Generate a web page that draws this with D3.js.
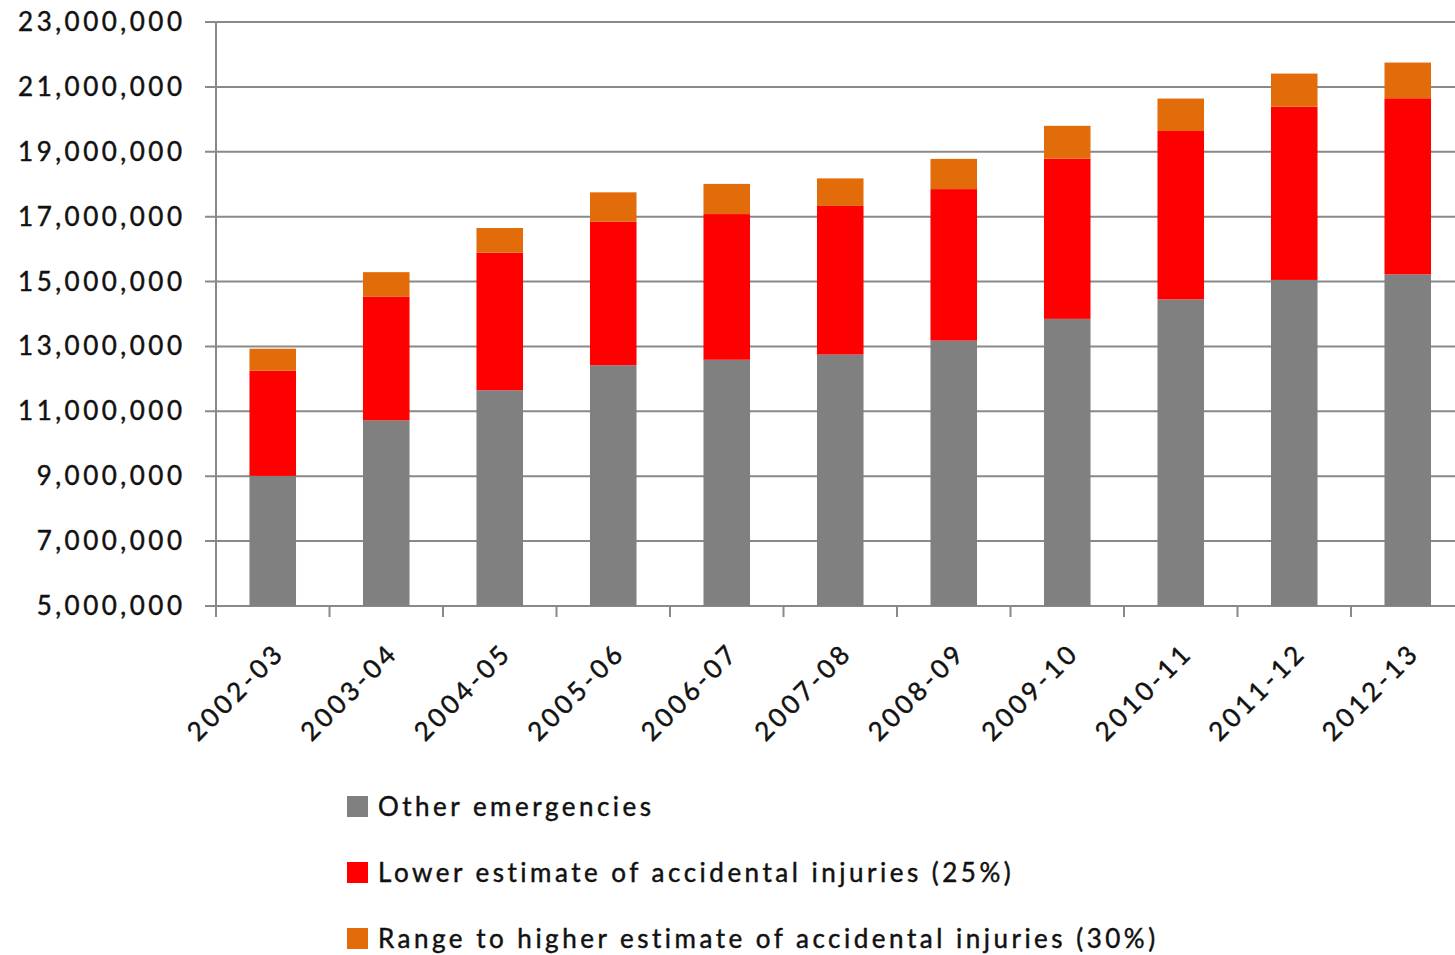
<!DOCTYPE html>
<html>
<head>
<meta charset="utf-8">
<script src="https://cdn.jsdelivr.net/npm/d3@7"></script>
<style>
  body { margin: 0; background: #fff; }
  svg text { font-family: Lato, "Open Sans", sans-serif; fill: #111; stroke: #111; stroke-width: 0.45; }
</style>
</head>
<body>
<svg id="chart" width="1455" height="955"></svg>
<script>
// years on the x axis
var years = ["2002-03", "2003-04", "2004-05", "2005-06", "2006-07", "2007-08",
             "2008-09", "2009-10", "2010-11", "2011-12", "2012-13"];

// segment values
var other_emergencies = [9010000, 10720000, 11650000, 12420000, 12590000, 12750000,
                         13180000, 13850000, 14450000, 15050000, 15220000];
var lower_estimate = [3240000, 3820000, 4240000, 4420000, 4490000, 4580000,
                      4670000, 4940000, 5190000, 5340000, 5430000];
var range_to_higher = [680000, 750000, 760000, 910000, 930000, 850000,
                       930000, 1010000, 1000000, 1020000, 1100000];

var y_ticks = [5000000, 7000000, 9000000, 11000000, 13000000, 15000000,
               17000000, 19000000, 21000000, 23000000];

var series_names = ["Other emergencies",
                    "Lower estimate of accidental injuries (25%)",
                    "Range to higher estimate of accidental injuries (30%)"];
var series_keys = ["other", "lower", "range"];
var colors = ["#808080", "#ff0000", "#e36c0a"];

// table for d3.stack
var rows = years.map(function(y, i) {
  return { year: y, other: other_emergencies[i], lower: lower_estimate[i], range: range_to_higher[i] };
});

var svg = d3.select("svg#chart");

var x_left = 216, x_right = 1464.5;
var y_top = 22, y_bottom = 606;
var spacing = 3.5;

var x = d3.scaleBand()
  .domain(years)
  .range([x_left, x_right])
  .paddingInner(0.59)
  .paddingOuter(0.295);

var y = d3.scaleLinear()
  .domain([5000000, 23000000])
  .range([y_bottom, y_top]);

// gridlines
svg.append("g")
  .selectAll("line")
  .data(y_ticks)
  .join("line")
  .attr("x1", x_left - 11)
  .attr("x2", 1455)
  .attr("y1", function(d) { return y(d); })
  .attr("y2", function(d) { return y(d); })
  .attr("stroke", "#898989")
  .attr("stroke-width", 2);

// stacked bars
var stacked = d3.stack().keys(series_keys)(rows);

svg.append("g")
  .selectAll("g")
  .data(stacked)
  .join("g")
  .attr("fill", function(d, i) { return colors[i]; })
  .selectAll("rect")
  .data(function(d) { return d; })
  .join("rect")
  .attr("x", function(d) { return x(d.data.year); })
  .attr("width", x.bandwidth())
  .attr("y", function(d) { return y(d[1]); })
  .attr("height", function(d) { return y(Math.max(d[0], 5000000)) - y(d[1]); });

// left axis line
svg.append("line")
  .attr("x1", x_left).attr("x2", x_left)
  .attr("y1", y_top).attr("y2", y_bottom + 11)
  .attr("stroke", "#898989")
  .attr("stroke-width", 2);

// bottom axis ticks at category boundaries
var step = x.step();
svg.append("g")
  .selectAll("line")
  .data(d3.range(years.length + 1))
  .join("line")
  .attr("x1", function(i) { return x_left + i * step; })
  .attr("x2", function(i) { return x_left + i * step; })
  .attr("y1", y_bottom)
  .attr("y2", y_bottom + 11)
  .attr("stroke", "#898989")
  .attr("stroke-width", 2);

// y tick labels
var fmt = d3.format(",");
svg.append("g")
  .selectAll("text")
  .data(y_ticks)
  .join("text")
  .attr("x", 182 + spacing)
  .attr("y", function(d) { return y(d) + 9; })
  .attr("text-anchor", "end")
  .attr("font-size", 26)
  .attr("letter-spacing", spacing)
  .text(function(d) { return fmt(d); });

// x labels, rotated
svg.append("g")
  .selectAll("text")
  .data(years)
  .join("text")
  .attr("transform", function(d) {
    var cx = x(d) + x.bandwidth() / 2;
    return "translate(" + (cx + 7) + "," + 648 + ") rotate(-45)";
  })
  .attr("text-anchor", "end")
  .attr("dy", "0.35em")
  .attr("font-size", 26)
  .attr("letter-spacing", spacing)
  .text(function(d) { return d; });

// legend
var legend = svg.append("g")
  .selectAll("g")
  .data(series_names)
  .join("g")
  .attr("transform", function(d, i) { return "translate(347," + (796 + i * 66) + ")"; });

legend.append("rect")
  .attr("width", 21)
  .attr("height", 21)
  .attr("fill", function(d, i) { return colors[i]; });

legend.append("text")
  .attr("x", 31)
  .attr("y", 20)
  .attr("font-size", 26)
  .attr("letter-spacing", spacing)
  .text(function(d) { return d; });
</script>
</body>
</html>
